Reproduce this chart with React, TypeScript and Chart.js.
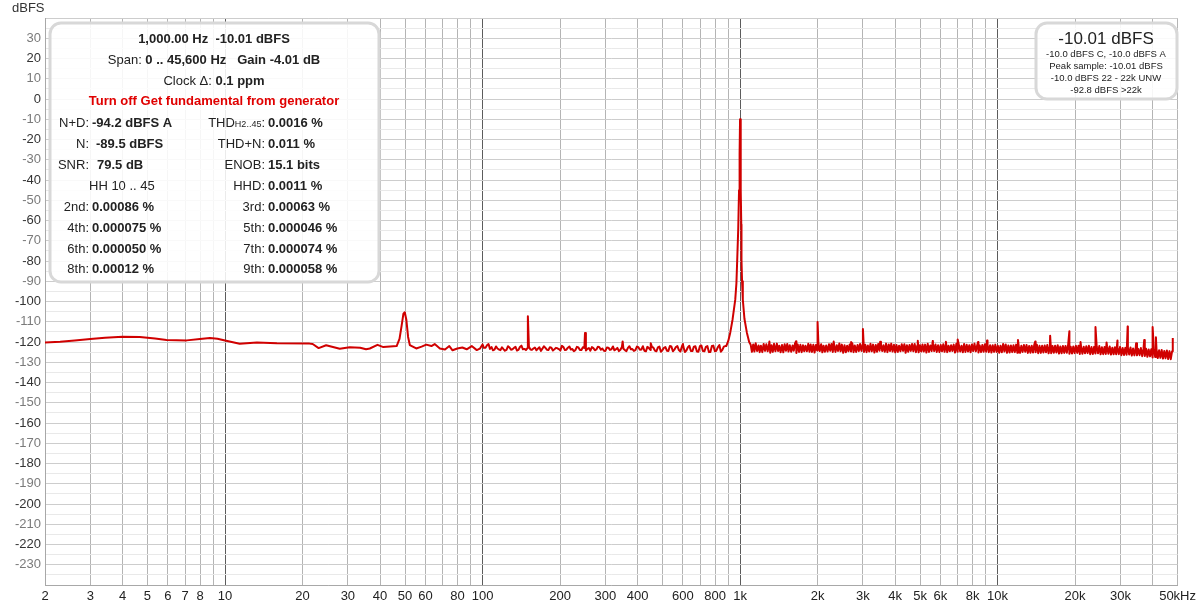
import React, { useEffect, useRef } from 'react';
import { Chart, registerables } from 'chart.js';

Chart.register(...registerables);

// ---------- DATA ----------
// Low-frequency portion (2 Hz .. 100 Hz), incl. 50 Hz hum
const LOW_F = [2.0, 2.29, 2.61, 3.0, 3.42, 4.0, 4.67, 5.35, 5.93, 7.1, 7.99, 8.74, 9.35, 10, 11.4, 13.3, 15.9, 21.3, 21.9, 23.1, 24.7, 27.9, 30.5, 33.5, 35.3, 36.5, 39.1, 41.2, 46.4, 47.6, 48.5, 49.3, 49.9, 50.6, 51.4, 52.2, 55.3, 58, 60.5, 63.3, 65.2, 68.3, 71.5, 74.3, 76.5, 79.8, 83.5, 86.8, 90.8, 95, 97.6];
const LOW_DB = [-120.3, -119.9, -119.3, -118.5, -117.9, -117.4, -117.5, -118.3, -119.0, -119.2, -118.5, -118.0, -118.4, -119.3, -120.9, -120.2, -120.6, -120.8, -121.0, -123.0, -121.6, -123.3, -122.6, -122.8, -123.6, -123.2, -121.4, -122.5, -122.0, -118.5, -112.0, -106.0, -105.3, -109.0, -117.5, -121.5, -123.2, -122.3, -121.3, -122.0, -121.0, -123.2, -123.7, -122.0, -124.1, -123.2, -122.7, -123.6, -122.0, -124.0, -123.3];

// Noise floor 100 Hz .. 880 Hz (two interleaved read-outs)
const MID_F = [100, 102.7, 105.5, 108.4, 111.3, 114.3, 117.4, 120.6, 123.9, 127.3,
  130.7, 134.3, 137.9, 141.6, 145.5, 149.4, 153.5, 157.6, 161.9, 166.3,
  170.8, 175.5, 180.2, 185.1, 190.2, 195.3, 200.6, 206.1, 211.7, 217.4,
  223.3, 229.4, 235.7, 242.1, 248.6, 255.4, 262.3, 269.5, 276.8, 284.3,
  292, 300, 308.2, 316.6, 325.2, 334, 343.1, 352.4, 362, 371.8,
  381.9, 392.3, 403, 413.9, 425.2, 436.7, 448.6, 460.8, 473.3, 486.2,
  499.4, 513, 526.9, 541.2, 555.9, 571, 586.6, 602.5, 618.9, 635.7,
  653, 670.7, 688.9, 707.7, 726.9, 746.7, 767, 787.8, 809.2, 831.2,
  853.8, 876];
const MID_DB = [-121.2, -122.8, -121.0, -122.5, -123.8, -123.2, -124.0, -123.5, -123.9, -122.7,
  -123.6, -122.4, -123.9, -121.8, -123.4, -123.0, -123.7, -123.2, -124.1, -122.6,
  -123.3, -122.9, -124.0, -122.8, -123.6, -123.1, -124.2, -122.5, -123.8, -122.2,
  -123.5, -124.0, -122.7, -123.9, -122.9, -123.4, -124.3, -123.0, -123.7, -122.6,
  -123.2, -124.4, -122.8, -123.6, -124.1, -122.9, -123.8, -123.3, -124.5, -122.1,
  -123.5, -124.0, -122.6, -123.7, -124.3, -122.4, -123.9, -122.8, -124.6, -122.3,
  -124.0, -122.5, -124.4, -122.2, -123.8, -122.0, -124.7, -122.4, -124.2, -121.9,
  -124.5, -122.1, -124.8, -121.7, -124.6, -122.0, -124.9, -121.8, -124.3, -121.5,
  -123.9, -122.0];
const MID2_F = [101.3, 104.1, 106.9, 109.8, 112.8, 115.8, 119, 122.2, 125.6, 129,
  132.5, 136.1, 139.7, 143.5, 147.4, 151.4, 155.5, 159.7, 164.1, 168.5,
  173.1, 177.8, 182.6, 187.6, 192.7, 197.9, 203.3, 208.9, 214.5, 220.3,
  226.3, 232.5, 238.9, 245.3, 252, 258.8, 265.9, 273.1, 280.5, 288.1,
  296, 304.1, 312.4, 320.9, 329.6, 338.5, 347.7, 357.2, 366.9, 376.8,
  387.1, 397.6, 408.4, 419.5, 430.9, 442.6, 454.7, 467, 479.7, 492.8,
  506.2, 519.9, 534, 548.5, 563.4, 578.8, 594.5, 610.7, 627.3, 644.3,
  661.8, 679.8, 698.3, 717.3, 736.8, 756.8, 777.4, 798.5, 820.2, 842.5,
  865];
const MID2_DB = [-122.9, -121.6, -123.4, -124.1, -122.2, -123.7, -122.6, -124.3, -122.1, -123.8,
  -122.9, -124.2, -122.5, -123.6, -124.0, -122.3, -123.9, -122.7, -123.3, -124.4,
  -122.1, -123.8, -122.6, -124.2, -122.9, -123.5, -121.9, -124.0, -122.8, -123.7,
  -124.5, -122.4, -123.9, -122.6, -124.2, -123.0, -122.5, -124.1, -122.3, -123.8,
  -124.3, -122.7, -123.9, -122.2, -123.6, -124.5, -122.5, -124.0, -122.9, -123.6,
  -124.4, -122.3, -123.8, -122.1, -124.6, -123.0, -122.4, -124.2, -122.7, -124.8,
  -122.9, -124.3, -122.0, -124.6, -122.5, -124.0, -122.2, -124.9, -122.6, -124.4,
  -122.3, -124.7, -122.1, -124.5, -122.4, -125.0, -122.0, -124.6, -122.5, -124.8,
  -122.3];

// Fundamental at 1 kHz
const PEAK_F = [884, 900, 916, 935, 958, 968, 975, 984, 991, 996, 1000, 1004, 1008, 1011, 1013, 1018, 1025, 1040, 1063, 1085];
const PEAK_DB = [-122.0, -119.5, -115.4, -109.0, -99.1, -91.0, -79.4, -64.0, -45.0, -27.0, -10.01, -27.0, -45.0, -62.0, -79.4, -90.0, -99.1, -108.5, -115.4, -120.0];

// Noise floor 1.1 kHz .. 48 kHz: upper excursions and interleaved lower excursions
const HIGH_F = [1100, 1125, 1150, 1180, 1205, 1235, 1265, 1295, 1325, 1355,
  1390, 1420, 1455, 1490, 1525, 1560, 1600, 1635, 1675, 1715,
  1755, 1795, 1840, 1880, 1925, 1970, 2015, 2065, 2110, 2160,
  2215, 2265, 2320, 2375, 2430, 2485, 2545, 2605, 2665, 2730,
  2790, 2860, 2925, 2995, 3065, 3135, 3210, 3285, 3365, 3440,
  3525, 3605, 3690, 3780, 3865, 3960, 4050, 4145, 4245, 4345,
  4445, 4550, 4655, 4765, 4880, 4995, 5110, 5230, 5355, 5480,
  5610, 5740, 5875, 6015, 6155, 6300, 6450, 6600, 6755, 6915,
  7075, 7245, 7415, 7590, 7765, 7950, 8135, 8330, 8525, 8725,
  8930, 9140, 9355, 9575, 9800, 10030, 10265, 10510, 10755, 11010,
  11265, 11530, 11805, 12080, 12365, 12655, 12955, 13260, 13570, 13890,
  14215, 14550, 14890, 15240, 15600, 15965, 16340, 16725, 17120, 17520,
  17935, 18355, 18785, 19230, 19680, 20145, 20615, 21100, 21600, 22105,
  22625, 23160, 23705, 24260, 24830, 25415, 26015, 26625, 27250, 27895,
  28550, 29220, 29905, 30610, 31330, 32065, 32820, 33590, 34380, 35190,
  36015, 36865, 37730, 38620, 39525, 40455, 41405, 42380, 43375, 44395,
  45440, 46510, 47600];
const HIGH_DB = [-121.4, -121.2, -120.6, -121.7, -121.8, -121.0, -121.1, -121.5, -121.6, -120.9,
  -120.8, -121.8, -121.5, -121.1, -121.0, -121.6, -121.7, -120.7, -121.2, -121.4,
  -121.6, -121.9, -120.9, -121.2, -121.4, -121.5, -120.6, -121.1, -121.8, -121.7,
  -121.1, -121.0, -121.5, -121.6, -120.7, -121.3, -121.6, -121.8, -121.2, -120.8,
  -121.7, -121.5, -121.0, -121.1, -121.4, -121.7, -120.9, -121.3, -121.5, -121.0,
  -121.2, -121.6, -120.8, -121.2, -120.8, -121.4, -121.5, -121.8, -121.1, -121.1,
  -121.6, -121.5, -121.0, -121.0, -121.7, -121.6, -121.2, -121.3, -120.9, -121.7,
  -120.9, -121.2, -121.6, -121.5, -121.1, -121.1, -121.8, -121.6, -121.3, -120.9,
  -121.5, -121.8, -121.0, -121.4, -121.6, -121.2, -120.8, -121.7, -121.7, -121.5,
  -121.1, -121.3, -121.6, -121.6, -121.3, -121.9, -121.8, -121.0, -121.2, -121.7,
  -121.7, -121.6, -121.3, -121.9, -121.9, -121.5, -121.5, -122.0, -121.8, -121.2,
  -121.4, -121.9, -121.9, -121.7, -121.5, -122.1, -122.0, -121.8, -121.6, -122.2,
  -122.0, -122.0, -121.6, -122.3, -122.2, -121.9, -121.8, -122.4, -122.3, -122.1,
  -121.9, -122.5, -122.4, -122.2, -122.0, -122.6, -122.5, -122.3, -122.2, -122.8,
  -122.6, -122.7, -122.4, -123.0, -122.9, -122.8, -122.7, -123.2, -123.1, -123.4,
  -123.0, -123.4, -123.3, -123.7, -123.6, -123.8, -123.5, -124.1, -123.9, -124.4,
  -124.2, -124.5, -124.6];
const HIGH2_F = [1112, 1137, 1165, 1192, 1220, 1250, 1280, 1310, 1340, 1372,
  1405, 1437, 1472, 1507, 1542, 1580, 1617, 1655, 1695, 1735,
  1775, 1817, 1860, 1902, 1947, 1992, 2040, 2087, 2135, 2187,
  2240, 2292, 2347, 2402, 2457, 2515, 2575, 2635, 2697, 2760,
  2825, 2892, 2960, 3030, 3100, 3172, 3247, 3325, 3402, 3482,
  3565, 3647, 3735, 3822, 3912, 4005, 4097, 4195, 4295, 4395,
  4497, 4602, 4710, 4822, 4937, 5052, 5170, 5292, 5417, 5545,
  5675, 5807, 5945, 6085, 6227, 6375, 6525, 6677, 6835, 6995,
  7160, 7330, 7502, 7677, 7857, 8042, 8232, 8427, 8625, 8827,
  9035, 9247, 9465, 9687, 9915, 10147, 10387, 10632, 10882, 11137,
  11397, 11667, 11942, 12222, 12510, 12805, 13107, 13415, 13730, 14052,
  14382, 14720, 15065, 15420, 15782, 16152, 16532, 16922, 17320, 17727,
  18145, 18570, 19007, 19455, 19912, 20380, 20857, 21350, 21852, 22365,
  22892, 23432, 23982, 24545, 25120, 25715, 26320, 26937, 27572, 28222,
  28885, 29562, 30257, 30970, 31697, 32442, 33205, 33985, 34785, 35602,
  36440, 37297, 38175, 39072, 39990, 40930, 41892, 42877, 43885, 44917,
  45975, 47055];
const HIGH2_DB = [-124.8, -124.7, -124.5, -125.0, -125.0, -124.4, -124.6, -125.3, -124.9, -124.6,
  -124.4, -125.1, -125.1, -124.3, -124.7, -124.8, -124.3, -125.4, -124.9, -125.0,
  -124.6, -124.6, -124.8, -124.9, -125.2, -124.2, -124.5, -125.1, -124.8, -124.7,
  -124.3, -124.9, -124.9, -124.4, -124.6, -125.3, -125.1, -124.6, -124.7, -125.0,
  -124.9, -124.5, -124.4, -124.9, -125.0, -124.7, -124.6, -125.2, -124.8, -124.3,
  -124.5, -124.8, -125.0, -124.5, -124.7, -125.1, -124.9, -124.6, -124.4, -125.3,
  -124.8, -124.4, -124.6, -125.0, -125.1, -124.7, -124.7, -125.2, -124.9, -124.5,
  -124.5, -124.9, -125.0, -124.6, -124.8, -125.0, -124.6, -124.4, -125.2, -124.8,
  -124.7, -125.1, -124.9, -124.7, -125.1, -124.5, -124.6, -125.2, -125.0, -124.8,
  -124.8, -125.0, -125.2, -124.9, -124.9, -125.3, -125.1, -124.7, -125.3, -125.2,
  -125.0, -125.0, -125.3, -125.4, -124.9, -124.8, -125.4, -125.3, -125.2, -125.0,
  -125.5, -125.4, -125.2, -125.1, -125.6, -125.5, -125.3, -125.2, -125.7, -125.6,
  -125.4, -125.3, -125.8, -125.7, -125.5, -125.4, -125.9, -125.8, -125.6, -125.5,
  -126.0, -125.9, -125.7, -125.6, -126.1, -126.0, -125.9, -125.8, -126.2, -126.1,
  -126.1, -126.0, -126.5, -126.4, -126.3, -126.2, -126.7, -126.6, -126.6, -126.5,
  -127.0, -126.9, -127.3, -127.1, -127.6, -127.4, -127.9, -127.8, -128.2, -128.0,
  -128.4, -128.5];

// Discrete spurs / harmonics
const SPIKE_F = [150, 250, 350, 450, 600, 1300, 1650, 2000, 2310, 2700, 3000, 3500, 4900, 5600, 6300, 7000, 8400, 9100, 12000, 14000, 16000, 19000, 21000, 24000, 26500, 29200, 32000, 34500, 37100, 40000, 41200, 47900];
const SPIKE_DB = [-107.3, -115.5, -119.7, -120.6, -121.0, -119.8, -119.6, -110.1, -119.8, -120.0, -113.6, -119.9, -119.4, -119.5, -119.9, -118.8, -120.0, -119.3, -119.0, -119.8, -116.9, -114.7, -120.0, -112.6, -120.2, -119.3, -112.3, -120.6, -119.0, -112.6, -117.7, -118.0];

// Axis ticks
const X_GRID = [2, 3, 4, 5, 6, 7, 8, 9, 10, 20, 30, 40, 50, 60, 70, 80, 90, 100, 200, 300, 400, 500, 600, 700, 800, 900, 1000, 2000, 3000, 4000, 5000, 6000, 7000, 8000, 9000, 10000, 20000, 30000, 40000, 50000];
const X_LABEL_VALUES = [2, 3, 4, 5, 6, 7, 8, 10, 20, 30, 40, 50, 60, 80, 100, 200, 300, 400, 600, 800, 1000, 2000, 3000, 4000, 5000, 6000, 8000, 10000, 20000, 30000, 50000];
const X_LABEL_TEXT = ['2', '3', '4', '5', '6', '7', '8', '10', '20', '30', '40', '50', '60', '80', '100', '200', '300', '400', '600', '800', '1k', '2k', '3k', '4k', '5k', '6k', '8k', '10k', '20k', '30k', '50kHz'];
const DECADES = [10, 100, 1000, 10000];

// ---------- DRAWING ----------
const FONT = '"Liberation Sans", Arial, Helvetica, sans-serif';

function buildPoints() {
  const pts: { x: number; y: number }[] = [];
  const add = (fs: number[], ds: number[]) => {
    const n = Math.min(fs.length, ds.length);
    for (let i = 0; i < n; i++) pts.push({ x: fs[i], y: ds[i] });
  };
  add(LOW_F, LOW_DB);
  add(MID_F, MID_DB);
  add(MID2_F, MID2_DB);
  add(PEAK_F, PEAK_DB);
  add(HIGH_F, HIGH_DB);
  add(HIGH2_F, HIGH2_DB);
  add(SPIKE_F, SPIKE_DB);
  pts.sort((a, b) => a.x - b.x);
  return pts;
}

function roundRectPath(ctx: CanvasRenderingContext2D, x: number, y: number, w: number, h: number, r: number) {
  ctx.beginPath();
  ctx.moveTo(x + r, y);
  ctx.lineTo(x + w - r, y);
  ctx.arcTo(x + w, y, x + w, y + r, r);
  ctx.lineTo(x + w, y + h - r);
  ctx.arcTo(x + w, y + h, x + w - r, y + h, r);
  ctx.lineTo(x + r, y + h);
  ctx.arcTo(x, y + h, x, y + h - r, r);
  ctx.lineTo(x, y + r);
  ctx.arcTo(x, y, x + r, y, r);
  ctx.closePath();
}

type Seg = [string, boolean];

function fontOf(bold: boolean, size = 13) {
  return `${bold ? 'bold ' : ''}${size}px ${FONT}`;
}

function drawCentered(ctx: CanvasRenderingContext2D, segs: Seg[], cx: number, y: number, color = '#222') {
  let total = 0;
  for (const [t, b] of segs) {
    ctx.font = fontOf(b);
    total += ctx.measureText(t).width;
  }
  let x = cx - total / 2;
  ctx.fillStyle = color;
  ctx.textAlign = 'left';
  for (const [t, b] of segs) {
    ctx.font = fontOf(b);
    ctx.fillText(t, x, y);
    x += ctx.measureText(t).width;
  }
}

const LEFT_ROWS: [string, string, number][] = [
  ['N+D:', '-94.2 dBFS A', 92],
  ['N:', '-89.5 dBFS', 96],
  ['SNR:', '79.5 dB', 97],
  ['', '', 0],
  ['2nd:', '0.00086 %', 92],
  ['4th:', '0.000075 %', 92],
  ['6th:', '0.000050 %', 92],
  ['8th:', '0.00012 %', 92],
];
const RIGHT_ROWS: [string, string][] = [
  ['', '0.0016 %'],
  ['THD+N:', '0.011 %'],
  ['ENOB:', '15.1 bits'],
  ['HHD:', '0.0011 %'],
  ['3rd:', '0.00063 %'],
  ['5th:', '0.000046 %'],
  ['7th:', '0.000074 %'],
  ['9th:', '0.000058 %'],
];
const ROW_Y = [123, 144, 165, 186, 207, 228, 249, 269];

const overlayPlugin = {
  id: 'overlay',
  afterDraw(chart: any) {
    const ctx: CanvasRenderingContext2D = chart.ctx;
    ctx.save();
    ctx.textBaseline = 'middle';

    ctx.font = fontOf(false, 13);
    ctx.fillStyle = '#333';
    ctx.textAlign = 'left';
    ctx.fillText('dBFS', 12, 8);

    // ---- info box ----
    roundRectPath(ctx, 50, 23, 329, 259, 11);
    ctx.fillStyle = 'rgba(255,255,255,0.88)';
    ctx.fill();
    ctx.lineWidth = 3;
    ctx.strokeStyle = '#d8d8d8';
    ctx.stroke();

    const cx = 214;
    drawCentered(ctx, [['1,000.00 Hz  -10.01 dBFS', true]], cx, 39);
    drawCentered(ctx, [['Span: ', false], ['0 .. 45,600 Hz   Gain -4.01 dB', true]], cx, 60);
    drawCentered(ctx, [['Clock \u0394: ', false], ['0.1 ppm', true]], cx, 81);
    drawCentered(ctx, [['Turn off Get fundamental from generator', true]], cx, 101, '#e00000');

    ctx.fillStyle = '#222';
    for (let i = 0; i < ROW_Y.length; i++) {
      const y = ROW_Y[i];
      const [lab, val, vx] = LEFT_ROWS[i];
      if (i === 3) {
        ctx.font = fontOf(false);
        ctx.textAlign = 'left';
        ctx.fillText('HH 10 .. 45', 89, y);
      } else {
        ctx.font = fontOf(false);
        ctx.textAlign = 'right';
        ctx.fillText(lab, 89, y);
        ctx.font = fontOf(true);
        ctx.textAlign = 'left';
        ctx.fillText(val, vx, y);
      }
      const [rl, rv] = RIGHT_ROWS[i];
      if (i === 0) {
        ctx.textAlign = 'right';
        ctx.font = fontOf(false);
        const cw = ctx.measureText(':').width;
        ctx.fillText(':', 265, y);
        ctx.font = fontOf(false, 9);
        const sw = ctx.measureText('H2..45').width;
        ctx.fillText('H2..45', 265 - cw, y + 1.5);
        ctx.font = fontOf(false);
        ctx.fillText('THD', 265 - cw - sw, y);
      } else {
        ctx.font = fontOf(false);
        ctx.textAlign = 'right';
        ctx.fillText(rl, 265, y);
      }
      ctx.font = fontOf(true);
      ctx.textAlign = 'left';
      ctx.fillText(rv, 268, y);
    }

    // ---- level box ----
    roundRectPath(ctx, 1036, 23, 141, 76, 11);
    ctx.fillStyle = 'rgba(255,255,255,0.88)';
    ctx.fill();
    ctx.lineWidth = 3;
    ctx.strokeStyle = '#d8d8d8';
    ctx.stroke();
    ctx.fillStyle = '#222';
    ctx.textAlign = 'center';
    ctx.font = fontOf(false, 17);
    ctx.fillText('-10.01 dBFS', 1106, 39);
    ctx.font = fontOf(false, 9.5);
    ctx.fillText('-10.0 dBFS C, -10.0 dBFS A', 1106, 54);
    ctx.fillText('Peak sample: -10.01 dBFS', 1106, 66);
    ctx.fillText('-10.0 dBFS 22 - 22k UNW', 1106, 78);
    ctx.fillText('-92.8 dBFS >22k', 1106, 90);

    ctx.restore();
  },
};

export default function App() {
  const ref = useRef<HTMLCanvasElement | null>(null);

  useEffect(() => {
    if (!ref.current) return;
    Chart.defaults.font.family = FONT;
    const chart = new Chart(ref.current, {
      type: 'line',
      data: {
        datasets: [
          {
            data: buildPoints(),
            borderColor: '#d00000',
            borderWidth: 2,
            borderJoinStyle: 'round',
            pointRadius: 0,
            tension: 0,
            fill: false,
          },
        ],
      },
      options: {
        animation: false,
        responsive: false,
        maintainAspectRatio: false,
        layout: { padding: { top: 18, right: 22, left: 0, bottom: 0 } },
        plugins: { legend: { display: false }, tooltip: { enabled: false }, title: { display: false } },
        scales: {
          x: {
            type: 'logarithmic',
            min: 2,
            max: 50000,
            afterBuildTicks: (s: any) => {
              s.ticks = X_GRID.map((v) => ({ value: v }));
            },
            afterFit: (s: any) => {
              s.height = 23;
            },
            ticks: {
              autoSkip: false,
              maxRotation: 0,
              minRotation: 0,
              padding: 4,
              color: '#222',
              font: { size: 13, family: FONT },
              callback: (v: any) => {
                const i = X_LABEL_VALUES.indexOf(Number(v));
                return i >= 0 ? X_LABEL_TEXT[i] : '';
              },
            },
            grid: {
              drawTicks: false,
              lineWidth: 1,
              color: (c: any) => (c.tick && DECADES.includes(c.tick.value) ? '#5c5c5c' : '#b4b4b4'),
            },
            border: { color: '#a8a8a8' },
          },
          y: {
            type: 'linear',
            min: -240,
            max: 40,
            afterFit: (s: any) => {
              s.width = 45;
            },
            ticks: {
              stepSize: 5,
              autoSkip: false,
              padding: 4,
              font: { size: 13, family: FONT },
              color: (c: any) => (c.tick && Math.abs(c.tick.value) % 20 === 0 ? '#333' : '#7a7a7a'),
              callback: (v: any) => {
                const n = Number(v);
                return n % 10 === 0 && n >= -230 && n <= 30 ? String(n) : '';
              },
            },
            grid: {
              drawTicks: false,
              lineWidth: 1,
              color: (c: any) => (c.tick && c.tick.value % 10 === 0 ? '#cdcdcd' : '#e9e9e9'),
            },
            border: { color: '#a8a8a8' },
          },
        },
      },
      plugins: [overlayPlugin],
    } as any);
    return () => chart.destroy();
  }, []);

  return (
    <div style={{ position: 'fixed', left: 0, top: 0, width: 1200, height: 608, background: '#fff' }}>
      <canvas ref={ref} width={1200} height={608} style={{ display: 'block' }} />
    </div>
  );
}
